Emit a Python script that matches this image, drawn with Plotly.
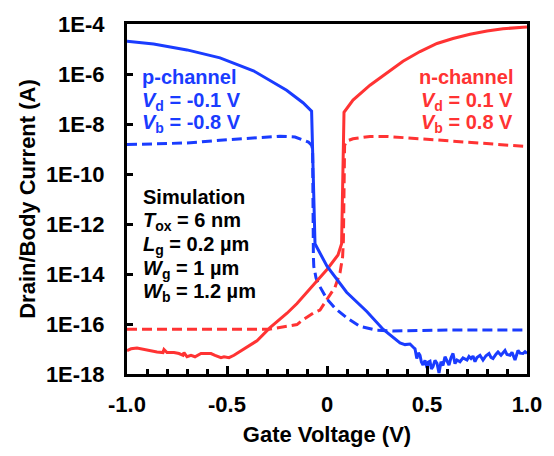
import plotly.graph_objects as go

# ---------------- data (gate voltage in V, current in A) ----------------
# p-channel drain current (solid blue)
p_drain_vg = [-1.0, -0.867, -0.70, -0.535, -0.368, -0.202, -0.12, -0.077,
              -0.06, -0.035, 0.0, 0.098, 0.199, 0.28, 0.35, 0.365, 0.39, 0.415,
              0.43, 0.44, 0.449, 0.457, 0.465, 0.472, 0.48, 0.49, 0.50, 0.507,
              0.515, 0.522, 0.53, 0.54, 0.55, 0.56, 0.57, 0.58, 0.59, 0.60,
              0.61, 0.62, 0.63, 0.64, 0.65, 0.665, 0.68, 0.70, 0.71, 0.72,
              0.73, 0.74, 0.75, 0.765, 0.78, 0.795, 0.81, 0.82, 0.83, 0.845,
              0.855, 0.87, 0.88, 0.89, 0.90, 0.915, 0.925, 0.94, 0.955, 0.965,
              0.98, 0.99, 1.0]
p_drain_i = [2.06e-5, 1.58e-5, 9.2e-6, 4.4e-6, 1.35e-6, 2.24e-7, 7.1e-8, 3.24e-8,
             1.62e-13, 6.6e-14, 2.04e-14, 1.86e-15, 3.16e-16, 6.17e-17, 2.14e-17, 1.74e-17, 1.5e-17, 1.58e-17,
             1.2e-17, 1.02e-17, 4.17e-18, 7.0e-18, 5.6e-18, 3.0e-18, 2.29e-18, 3.5e-18, 1.74e-18, 3.0e-18,
             3.24e-18, 1.6e-18, 2.0e-18, 3.5e-18, 2.69e-18, 1.1e-18, 3.1e-18, 2.2e-18, 4.9e-18, 3.3e-18,
             2.29e-18, 4.5e-18, 6.6e-18, 2.6e-18, 3.63e-18, 3.1e-18, 4.4e-18, 3.63e-18, 5.0e-18, 4.17e-18,
             5.2e-18, 3.1e-18, 4.6e-18, 5.6e-18, 3.63e-18, 5.4e-18, 6.6e-18, 4.6e-18, 4.17e-18, 6.2e-18,
             7.6e-18, 5.6e-18, 7.0e-18, 8.7e-18, 6.0e-18, 5.6e-18, 7.4e-18, 3.63e-18, 8.7e-18, 6.8e-18,
             6.6e-18, 7.8e-18, 6.6e-18]

# p-channel body current (dashed blue)
p_body_vg = [-1.0, -0.70, -0.535, -0.37, -0.235, -0.16, -0.093, -0.077, -0.072,
             -0.068, -0.066, -0.055, -0.043, -0.0015, 0.04, 0.10, 0.165, 0.25,
             0.33, 0.6, 1.0]
p_body_i = [1.51e-9, 1.74e-9, 2.24e-9, 2.75e-9, 3.24e-9, 3.02e-9, 1.91e-9, 1.41e-9, 1.0e-9,
            4.9e-14, 2.0e-14, 7.1e-15, 3.98e-15, 1.02e-15, 4.27e-16, 1.74e-16, 8.1e-17, 5.6e-17,
            5.25e-17, 5.75e-17, 5.75e-17]

# n-channel drain current (solid red)
n_drain_vg = [-1.0, -0.98, -0.95, -0.915, -0.88, -0.85, -0.82, -0.815, -0.80,
              -0.765, -0.74, -0.72, -0.715, -0.70, -0.68, -0.66, -0.63, -0.60,
              -0.58, -0.56, -0.53, -0.515, -0.49, -0.465, -0.44, -0.415, -0.38,
              -0.35, -0.285, -0.20, -0.15, -0.07, 0.0, 0.055, 0.073, 0.085,
              0.13, 0.215, 0.30, 0.38, 0.465, 0.55, 0.63, 0.715, 0.80, 0.88,
              0.98, 1.0]
n_drain_i = [8.7e-18, 1.02e-17, 1.1e-17, 9.5e-18, 8.7e-18, 7.6e-18, 7.2e-18, 9.5e-18, 7.2e-18,
             7.2e-18, 6.6e-18, 5.6e-18, 7.2e-18, 4.9e-18, 5.6e-18, 4.9e-18, 6.6e-18, 6.6e-18,
             6.6e-18, 5.6e-18, 4.5e-18, 4.9e-18, 4.5e-18, 5.6e-18, 7.6e-18, 1.02e-17, 1.58e-17,
             2.14e-17, 7.1e-17, 2.69e-16, 6.6e-16, 3.39e-15, 1.51e-14, 5.75e-14, 1.62e-13, 2.95e-8,
             9.1e-8, 3.55e-7, 1.15e-6, 3.24e-6, 7.9e-6, 1.66e-5, 2.63e-5, 3.89e-5, 5.25e-5, 6.46e-5,
             7.4e-5, 7.6e-5]

# n-channel body current (dashed red)
n_body_vg = [-1.0, -0.6, -0.29, -0.20, -0.15, -0.12, -0.07, -0.035, 0.0, 0.04,
             0.065, 0.078, 0.082, 0.088, 0.10, 0.13, 0.215, 0.30, 0.465, 0.63,
             0.80, 1.0]
n_body_i = [6.17e-17, 6.17e-17, 6.17e-17, 8.1e-17, 9.5e-17, 1.48e-16, 2.69e-16, 3.63e-16, 1.02e-15, 2.95e-15,
            1.12e-14, 4.9e-14, 2.19e-13, 1.4e-9, 2.1e-9, 2.57e-9, 3.16e-9, 3.16e-9, 2.57e-9, 2.04e-9,
            1.66e-9, 1.26e-9]

x_tickvals = [-1.0, -0.5, 0.0, 0.5, 1.0]
x_ticktext = ["-1.0", "-0.5", "0", "0.5", "1.0"]
y_tickvals = [1e-4, 1e-6, 1e-8, 1e-10, 1e-12, 1e-14, 1e-16, 1e-18]
y_ticktext = ["1E-4", "1E-6", "1E-8", "1E-10", "1E-12", "1E-14", "1E-16", "1E-18"]

# ---------------- styling ----------------
BLUE = "#1a3cff"
RED = "#ff3333"
FONT = "Liberation Sans, Arial, sans-serif"
DASH = "10px,5px"

fig = go.Figure()
fig.add_trace(go.Scatter(x=n_body_vg, y=n_body_i, mode="lines",
                         line=dict(color=RED, width=3, dash=DASH)))
fig.add_trace(go.Scatter(x=p_body_vg, y=p_body_i, mode="lines",
                         line=dict(color=BLUE, width=3, dash=DASH)))
fig.add_trace(go.Scatter(x=n_drain_vg, y=n_drain_i, mode="lines",
                         line=dict(color=RED, width=3)))
fig.add_trace(go.Scatter(x=p_drain_vg, y=p_drain_i, mode="lines",
                         line=dict(color=BLUE, width=3)))

fig.update_layout(
    width=554, height=456,
    margin=dict(l=127, r=27, t=20, b=75),
    plot_bgcolor="white", paper_bgcolor="white",
    showlegend=False,
    font=dict(family=FONT, size=22, color="black", weight="bold"),
)

fig.update_xaxes(
    range=[-1, 1], tickmode="array", tickvals=x_tickvals, ticktext=x_ticktext,
    ticks="inside", ticklen=8, tickwidth=3, tickcolor="black",
    ticklabelstandoff=9,
    minor=dict(dtick=0.1, tick0=0, ticks="inside", ticklen=5, tickwidth=3,
               tickcolor="black", showgrid=False),
    showline=True, linewidth=3, linecolor="black", mirror=True,
    showgrid=False, zeroline=False,
    tickfont=dict(family=FONT, size=22, color="black", weight="bold"),
    title=dict(text="Gate Voltage (V)", standoff=11,
               font=dict(family=FONT, size=22, color="black", weight="bold")),
)
fig.update_yaxes(
    type="log", range=[-18, -4], tickmode="array", tickvals=y_tickvals, ticktext=y_ticktext,
    ticks="inside", ticklen=6, tickwidth=3, tickcolor="black",
    ticklabelstandoff=15,
    showline=True, linewidth=3, linecolor="black", mirror=True,
    showgrid=False, zeroline=False,
    tickfont=dict(family=FONT, size=22, color="black", weight="bold"),
    title=dict(text="Drain/Body Current (A)", standoff=5,
               font=dict(family=FONT, size=22, color="black", weight="bold")),
)

PLOT_L, PLOT_R, PLOT_T, PLOT_B = 127, 527, 20, 381


def px(xp):
    return (xp - PLOT_L) / (PLOT_R - PLOT_L)


def py(yp):
    return (PLOT_B - yp) / (PLOT_B - PLOT_T)


def note(text, xp, yp, color, anchor):
    fig.add_annotation(text=text, x=px(xp), y=py(yp), xref="paper", yref="paper",
                       xanchor=anchor, yanchor="middle", showarrow=False, borderpad=0,
                       font=dict(family=FONT, size=20, color=color, weight="bold"))


note("p-channel", 141, 75, BLUE, "left")
note("<i>V</i><sub>d</sub> = -0.1 V", 141, 100, BLUE, "left")
note("<i>V</i><sub>b</sub> = -0.8 V", 141, 123, BLUE, "left")

note("n-channel", 514, 75, RED, "right")
note("<i>V</i><sub>d</sub> = 0.1 V", 514, 100, RED, "right")
note("<i>V</i><sub>b</sub> = 0.8 V", 514, 123, RED, "right")

note("Simulation", 142, 198, "black", "left")
note("<i>T</i><sub>ox</sub> = 6 nm", 142, 224, "black", "left")
note("<i>L</i><sub>g</sub> = 0.2 µm", 142, 248, "black", "left")
note("<i>W</i><sub>g</sub> = 1 µm", 142, 273, "black", "left")
note("<i>W</i><sub>b</sub> = 1.2 µm", 142, 297, "black", "left")

fig.write_html("out.html")
